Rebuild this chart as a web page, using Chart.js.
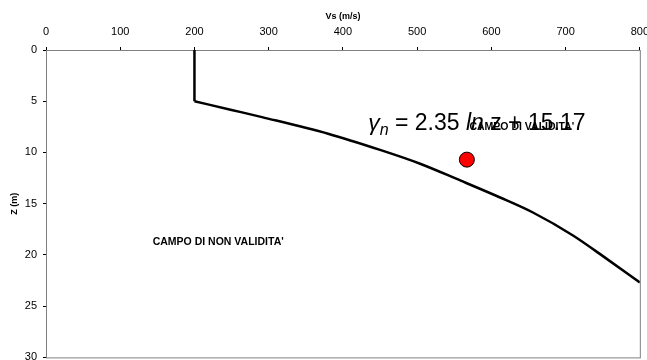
<!DOCTYPE html>
<html>
<head>
<meta charset="utf-8">
<script src="https://cdn.jsdelivr.net/npm/chart.js@4.4.0/dist/chart.umd.min.js"></script>
<style>
  html, body { margin: 0; background: #fff; overflow: hidden; }
  #wrap { width: 647px; height: 360px; overflow: hidden; }
</style>
</head>
<body>
<div id="wrap"><canvas id="myChart"></canvas></div>
<script>
// tratto verticale iniziale
var vsTop = [200, 200];
var zTop  = [0, 5];

// profilo Vs - Z
var vsCurve = [200, 250, 291, 380, 450, 504, 558, 611, 656, 710, 755, 800];
var zCurve  = [5, 5.85, 6.55, 8.17, 9.75, 11.1, 12.73, 14.37, 15.86, 18.1, 20.36, 22.68];

// punto rosso
var vsPoint = [567];
var zPoint  = [10.7];

// etichette di testo (posizione in coordinate dati)
var labelText = ["CAMPO DI VALIDITA'", "CAMPO DI NON VALIDITA'"];
var labelVs   = [641, 232];
var labelZ    = [7.5, 18.7];

// formula
var formulaVs = 434;
var formulaZ  = 7.85;

function toXY(xs, ys) { return xs.map(function (v, i) { return {x: v, y: ys[i]}; }); }

var textPlugin = {
	id: 'testi',
	beforeDatasetsDraw: function (chart) {
		var a = chart.chartArea, ctx = chart.ctx;
		ctx.save();
		ctx.strokeStyle = '#808080';
		ctx.lineWidth = 1;
		ctx.strokeRect(a.left + 0.5, a.top + 0.5, a.right - a.left, a.bottom - a.top);
		ctx.restore();
	},
	afterDatasetsDraw: function (chart) {
		var ctx = chart.ctx, xs = chart.scales.x, ys = chart.scales.y;
		ctx.save();
		ctx.fillStyle = '#000';
		ctx.textBaseline = 'alphabetic';
		ctx.textAlign = 'left';
		// formula: gamma_n = 2.35 ln z + 15.17
		var x = xs.getPixelForValue(formulaVs), y = ys.getPixelForValue(formulaZ);
		var parts = [
			{t: 'γ', f: 'italic 23px "Liberation Sans", Arial', dy: 0},
			{t: 'n', f: 'italic 16px "Liberation Sans", Arial', dy: 5},
			{t: ' = 2.35 ', f: '23px "Liberation Sans", Arial', dy: 0},
			{t: 'ln', f: 'italic 23px "Liberation Sans", Arial', dy: 0},
			{t: ' z + 15.17', f: '23px "Liberation Sans", Arial', dy: 0}
		];
		parts.forEach(function (p) {
			ctx.font = p.f;
			ctx.fillText(p.t, x, y + p.dy);
			x += ctx.measureText(p.t).width;
		});
		ctx.font = 'bold 10.5px "Liberation Sans", Arial';
		ctx.textAlign = 'center';
		ctx.textBaseline = 'middle';
		for (var i = 0; i < labelText.length; i++) {
			ctx.fillText(labelText[i], xs.getPixelForValue(labelVs[i]), ys.getPixelForValue(labelZ[i]));
		}
		ctx.restore();
	}
};

function makeConfig() {
	return {
		type: 'scatter',
		data: {
			datasets: [
				{label: 'verticale', data: toXY(vsTop, zTop), showLine: true, borderColor: '#000', borderWidth: 2.5,
					pointRadius: 0, tension: 0, order: 3},
				{label: 'profilo', data: toXY(vsCurve, zCurve), showLine: true, borderColor: '#000', borderWidth: 2.5,
					pointRadius: 0, cubicInterpolationMode: 'monotone', order: 2},
				{label: 'punto', data: toXY(vsPoint, zPoint), pointRadius: 7.5, pointHoverRadius: 7.5,
					backgroundColor: '#ff0000', borderColor: '#000', borderWidth: 1, order: 1}
			]
		},
		options: {
			responsive: false,
			maintainAspectRatio: false,
			animation: false,
			devicePixelRatio: 1,
			layout: {padding: 0},
			plugins: {legend: {display: false}, tooltip: {enabled: false}},
			scales: {
				x: {
					type: 'linear', position: 'top', min: 0, max: 800,
					ticks: {stepSize: 100, color: '#000', font: {family: '"Liberation Sans", Arial', size: 11}, padding: 8},
					grid: {drawOnChartArea: false, drawTicks: true, tickLength: 3, color: '#000'},
					border: {color: '#000', width: 1},
					title: {display: true, text: 'Vs (m/s)', color: '#000',
						font: {family: '"Liberation Sans", Arial', size: 9, weight: 'bold'}, padding: {top: 11, bottom: 2}},
					afterFit: function (s) { s.height = 50; }
				},
				y: {
					type: 'linear', reverse: true, min: 0, max: 30,
					ticks: {stepSize: 5, color: '#000', font: {family: '"Liberation Sans", Arial', size: 11}, padding: 6},
					grid: {drawOnChartArea: false, drawTicks: true, tickLength: 3, color: '#000'},
					border: {color: '#000', width: 1},
					title: {display: true, text: 'Z (m)', color: '#000',
						font: {family: '"Liberation Sans", Arial', size: 9, weight: 'bold'}, padding: {top: 9, bottom: 2}},
					afterFit: function (s) { s.width = 46; }
				}
			}
		},
		plugins: [textPlugin]
	};
}

// il riquadro del grafico deve finire a x=640, y=357: si allarga il canvas oltre la finestra
// (le etichette 800 e 30 restano tagliate come nell'originale)
var canvasElement = document.getElementById("myChart");
var w = 647, h = 360, myChart;
for (var k = 0; k < 3; k++) {
	if (myChart) myChart.destroy();
	canvasElement.width = w;
	canvasElement.height = h;
	canvasElement.style.width = w + 'px';
	canvasElement.style.height = h + 'px';
	myChart = new Chart(canvasElement, makeConfig());
	w += Math.round(640 - myChart.chartArea.right);
	h += Math.round(357 - myChart.chartArea.bottom);
}
</script>
</body>
</html>
